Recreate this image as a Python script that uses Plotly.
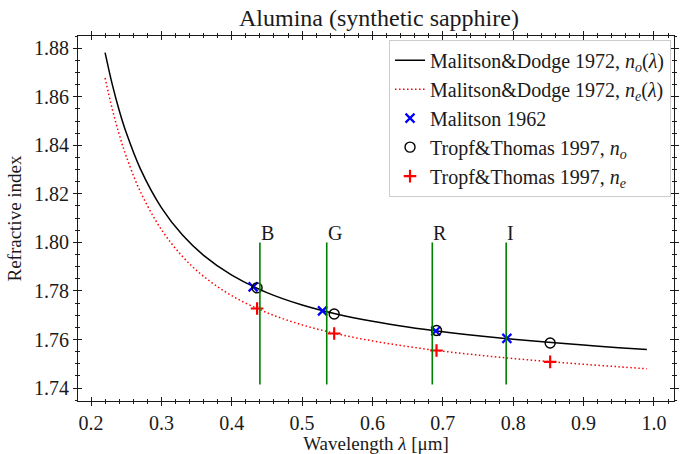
import plotly.graph_objects as go

# Malitson & Dodge (1972) dispersion curves, wavelength in micrometres
curve_wl = [0.22, 0.23, 0.24, 0.25, 0.27, 0.30, 0.33, 0.36, 0.40, 0.45, 0.50,
            0.55, 0.60, 0.65, 0.70, 0.75, 0.80, 0.85, 0.90, 0.95, 0.99]
curve_no = [1.87817, 1.86529, 1.85446, 1.84523, 1.83040, 1.81436, 1.80302,
            1.79467, 1.78652, 1.77935, 1.77424, 1.77045, 1.76750, 1.76515,
            1.76321, 1.76156, 1.76012, 1.75887, 1.75772, 1.75665, 1.75587]
curve_ne = [1.86774, 1.85513, 1.84453, 1.83550, 1.82099, 1.80529, 1.79421,
            1.78604, 1.77807, 1.77105, 1.76605, 1.76233, 1.75944, 1.75713,
            1.75522, 1.75360, 1.75220, 1.75095, 1.74982, 1.74878, 1.74800]

# Malitson 1962 measurements (ordinary ray)
malitson_wl = [0.4304, 0.529, 0.690, 0.791]
malitson_n = [1.7817, 1.7718, 1.7635, 1.7605]

# Tropf & Thomas 1997 tabulated values
tropf_wl = [0.436, 0.5456, 0.691, 0.8525]
tropf_no = [1.7813, 1.7705, 1.7637, 1.7586]
tropf_ne = [1.7728, 1.7625, 1.7555, 1.7508]

# Colour-channel marker wavelengths
band_names = ["B", "G", "R", "I"]
band_wl = [0.44, 0.535, 0.685, 0.79]
band_lo, band_hi = 1.7415, 1.80

x_range = [0.1815, 1.0285]
y_range = [1.7347, 1.8850]

SERIF = "Liberation Serif"
INK = "#1a1a1a"

fig = go.Figure()

fig.add_trace(go.Scatter(
    x=curve_wl, y=curve_no, mode="lines", line_shape="spline",
    line=dict(color="black", width=1.5),
    name="Malitson&Dodge 1972, <i>n</i><sub><i>o</i></sub>(<i>λ</i>)",
    legendgroup="a"))
fig.add_trace(go.Scatter(
    x=curve_wl, y=curve_ne, mode="lines", line_shape="spline",
    line=dict(color="red", width=1.5, dash="1.5px,2.5px"),
    name="Malitson&Dodge 1972, <i>n</i><sub><i>e</i></sub>(<i>λ</i>)",
    legendgroup="b"))

# vertical band lines on the overlay axes (they also carry the inward ticks)
bx, by = [], []
for w in band_wl:
    bx += [w, w, None]
    by += [band_lo, band_hi, None]
fig.add_trace(go.Scatter(
    x=bx, y=by, mode="lines", line=dict(color="green", width=1.6),
    showlegend=False, hoverinfo="skip", xaxis="x2", yaxis="y2"))

fig.add_trace(go.Scatter(
    x=malitson_wl, y=malitson_n, mode="markers",
    marker=dict(symbol="x-thin", size=9, line=dict(color="blue", width=2.2)),
    name="Malitson 1962", legendgroup="c"))
fig.add_trace(go.Scatter(
    x=tropf_wl, y=tropf_no, mode="markers",
    marker=dict(symbol="circle-open", size=10, color="black",
                line=dict(color="black", width=1.4)),
    name="Tropf&Thomas 1997, <i>n</i><sub><i>o</i></sub>", legendgroup="d"))
fig.add_trace(go.Scatter(
    x=tropf_wl, y=tropf_ne, mode="markers",
    marker=dict(symbol="cross-thin", size=9, line=dict(color="red", width=2.2)),
    name="Tropf&Thomas 1997, <i>n</i><sub><i>e</i></sub>", legendgroup="e"))

for name, w in zip(band_names, band_wl):
    fig.add_annotation(x=w, y=band_hi, text=name, showarrow=False,
                       xanchor="left", yanchor="bottom", yshift=-4, xshift=-1,
                       font=dict(family=SERIF, size=20, color=INK))

tick_font = dict(family=SERIF, size=20, color=INK)
common = dict(showgrid=False, zeroline=False, linecolor=INK, linewidth=1.2,
              tickcolor=INK, tickwidth=1.1)

fig.update_layout(
    width=681, height=454,
    margin=dict(l=78, r=2, t=36, b=51),
    plot_bgcolor="white", paper_bgcolor="white",
    title=dict(text="Alumina (synthetic sapphire)", x=0.5565, xanchor="center",
               y=1 - 18 / 454, yanchor="middle", yref="container",
               font=dict(family=SERIF, size=24, color=INK)),
    xaxis=dict(range=x_range, dtick=0.1, tick0=0.2, ticks="outside", ticklen=4,
               mirror="ticks", showline=True, tickformat=".1f",
               minor=dict(dtick=0.02, ticks="outside", ticklen=2, tickcolor=INK),
               tickfont=tick_font,
               title=dict(text="Wavelength <i>λ</i> [μm]", standoff=5,
                          font=dict(family=SERIF, size=19, color=INK)),
               **common),
    yaxis=dict(range=y_range, dtick=0.02, tick0=1.74, ticks="outside", ticklen=4,
               mirror="ticks", showline=True, tickformat=".2f",
               minor=dict(dtick=0.005, ticks="outside", ticklen=2, tickcolor=INK),
               tickfont=tick_font,
               title=dict(text="Refractive index", standoff=7,
                          font=dict(family=SERIF, size=19, color=INK)),
               **common),
    xaxis2=dict(range=x_range, overlaying="x", anchor="y2", dtick=0.1, tick0=0.2,
                ticks="inside", ticklen=4, mirror="ticks", showticklabels=False,
                minor=dict(dtick=0.02, ticks="inside", ticklen=2, tickcolor=INK),
                **common),
    yaxis2=dict(range=y_range, overlaying="y", anchor="x2", dtick=0.02, tick0=1.74,
                ticks="inside", ticklen=4, mirror="ticks", showticklabels=False,
                minor=dict(dtick=0.005, ticks="inside", ticklen=2, tickcolor=INK),
                **common),
    legend=dict(x=0.995, y=0.99, xanchor="right", yanchor="top",
                bgcolor="rgba(255,255,255,0.85)", bordercolor="#cccccc",
                borderwidth=1, tracegroupgap=0,
                font=dict(family=SERIF, size=20, color=INK)),
    showlegend=True,
)

fig.write_html("out.html")
